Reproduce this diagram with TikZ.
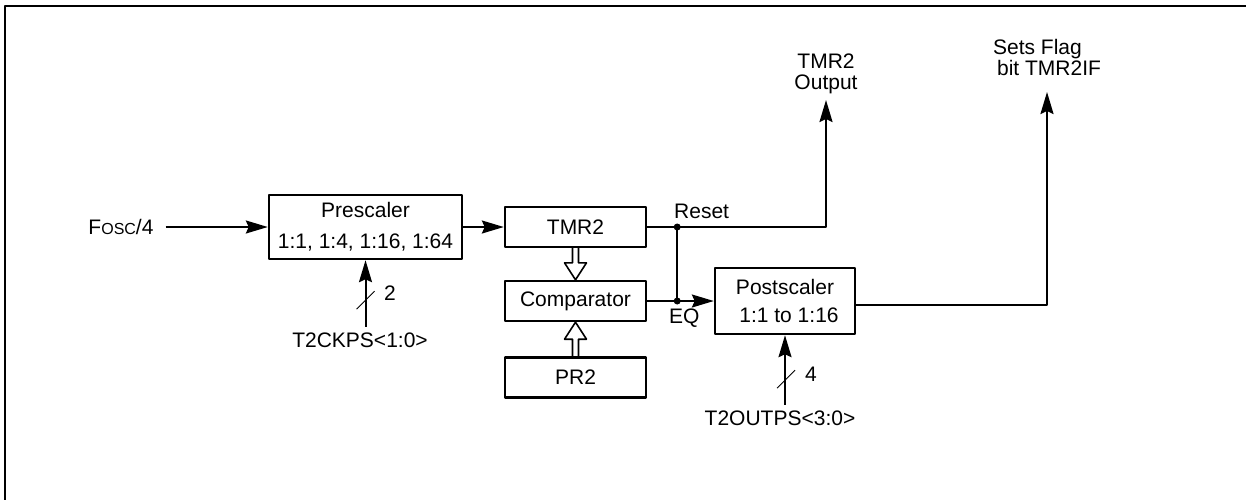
\documentclass[tikz,border=0pt]{standalone}
\usepackage{fontspec}
\setmainfont{Liberation Sans}
\usetikzlibrary{arrows.meta,calc}
\begin{document}
\begin{tikzpicture}[x=0.5pt, y=-0.5pt, line join=round, >={Stealth[length=11pt,width=6.5pt,inset=1.5pt]},
	font=\fontsize{10.5}{10.5}\selectfont,
	blk/.style={draw, line width=1.2pt, inner sep=0pt, align=center, minimum width=70.5pt, minimum height=20pt},
	lbl/.style={inner sep=0pt, outer sep=3pt, align=center},
	wire/.style={line width=1pt},
	hollow/.style={line width=0.8pt}]
	\useasboundingbox (0,0) rectangle (1246,499);
	\clip (0,0) rectangle (1246,499);
	\draw[line width=1.2pt] (5,520) |- (1260,6);
	\node[blk, minimum width=96.5pt, minimum height=32pt, font=\fontsize{10.5}{15.5}\selectfont] (pre) at (365.5,227) {Prescaler\\1:1, 1:4, 1:16, 1:64};
	\node[blk] (tmr) at (575.5,227) {TMR2};
	\node[blk] (cmp) at (575.5,301) {Comparator};
	\node[blk] (pr2) at (575.5,377.5) {PR2};
	\node[blk, minimum width=70pt, minimum height=33pt, font=\fontsize{10.5}{14}\selectfont] (post) at (785,301) {Postscaler\\\hspace*{4pt}1:1 to 1:16};
	\node[lbl, outer sep=6pt] (fosc) at (121,227) {F{\fontsize{8}{8}\selectfont OSC}/4};
	\node[lbl] (ckps) at (360,340) {T2CKPS<1:0>};
	\node[lbl] (outps) at (780,418) {T2OUTPS<3:0>};
	\node[lbl, anchor=south] (out) at (826,100) {TMR2\\Output};
	\node[lbl, anchor=south, outer sep=8pt, align=left] (flag) at (1047,92) {Sets Flag\\\hspace*{2pt}bit TMR2IF};
	\coordinate (jr) at ($(tmr.east)+(30,0)$);
	\coordinate (jq) at (jr |- cmp.east);
	\node[lbl, anchor=west] (rst) at ($(jr)+(-9,-16)$) {Reset};
	\node[lbl] (eq) at ($(jq)+(7,17)$) {EQ};
	\node[lbl] (two) at ($(pre.south)+(24.5,33)$) {2};
	\node[lbl] (four) at ($(post.south)+(26,39)$) {4};
	\draw[wire,->] (fosc) -- (pre);
	\draw[wire,->] (pre) -- (tmr);
	\draw[wire,->] (tmr.east) -| (out.south);
	\draw[wire] (jr) -- (jq);
	\draw[wire,->] (cmp) -- (post);
	\draw[wire,->] ($(post.east)+(0,4)$) -| (flag.south);
	\fill (jr) circle (3.5);
	\fill (jq) circle (3.5);
	\draw[wire,->] (pre.south |- ckps.north) -- (pre.south);
	\draw[wire,->] (post.south |- outps.north) -- (post.south);
	\draw[thin] ($(pre.south)+(-9,49)$) -- ++(18,-18);
	\draw[thin] ($(post.south)+(-8,53)$) -- ++(18,-18);
	\draw[hollow] ($(tmr.south)+(-3,0)$) -- ($(cmp.north)+(-3,-17)$) -- ($(cmp.north)+(-11,-17)$) -- (cmp.north) -- ($(cmp.north)+(11,-17)$) -- ($(cmp.north)+(3,-17)$) -- ($(tmr.south)+(3,0)$);
	\draw[hollow] ($(pr2.north)+(-3,0)$) -- ($(cmp.south)+(-3,17)$) -- ($(cmp.south)+(-11,17)$) -- (cmp.south) -- ($(cmp.south)+(11,17)$) -- ($(cmp.south)+(3,17)$) -- ($(pr2.north)+(3,0)$);
\end{tikzpicture}
\end{document}
